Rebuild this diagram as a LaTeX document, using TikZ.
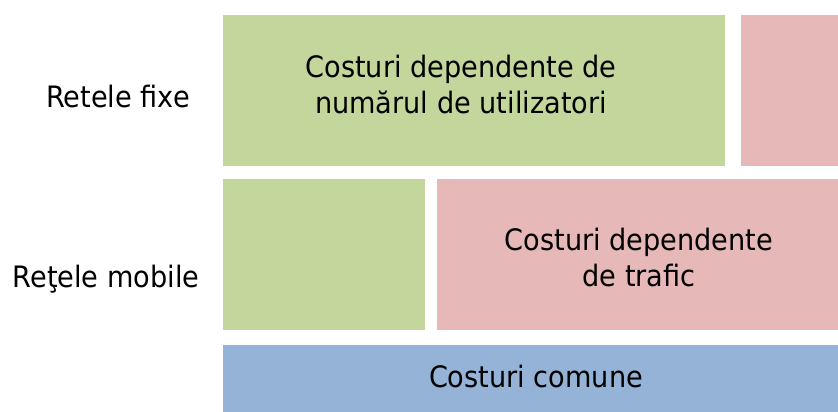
\documentclass[tikz,border=0pt]{standalone}
\usepackage{fontspec}
\setmainfont{DejaVu Sans}[FakeStretch=0.92]
\definecolor{cgreen}{HTML}{C3D69B}
\definecolor{cpink}{HTML}{E6B9B8}
\definecolor{cblue}{HTML}{95B3D7}
\begin{document}
\begin{tikzpicture}[x=1pt,y=-1pt,
  box/.style={inner sep=0pt, outer sep=0pt, draw=none, anchor=north west},
  lbl/.style={font=\fontsize{29.5}{36}\selectfont, align=center, text=black, inner sep=0pt}]
\useasboundingbox (0,0) rectangle (838,412);
\node[box, fill=cgreen, minimum width=502pt, minimum height=151pt] (g1) at (223,15) {};
\node[box, fill=cpink, minimum width=97pt, minimum height=151pt] (p1) at (741,15) {};
\node[box, fill=cgreen, minimum width=202pt, minimum height=151pt] (g2) at (223,179) {};
\node[box, fill=cpink, minimum width=401pt, minimum height=151pt] (p2) at (437,179) {};
\node[box, fill=cblue, minimum width=615pt, minimum height=67pt] (b1) at (223,345) {};
\node[lbl] (t1) at (461,85) {Costuri dependente de\\numărul de utilizatori};
\node[lbl] (t2) at (639,258) {Costuri dependente\\de trafic};
\node[lbl] (t3) at (536,376) {Costuri comune};
\node[lbl] (r1) at (118,97) {Retele fixe};
\node[lbl] (r2) at (106,279) {Reţele mobile};
\end{tikzpicture}
\end{document}
